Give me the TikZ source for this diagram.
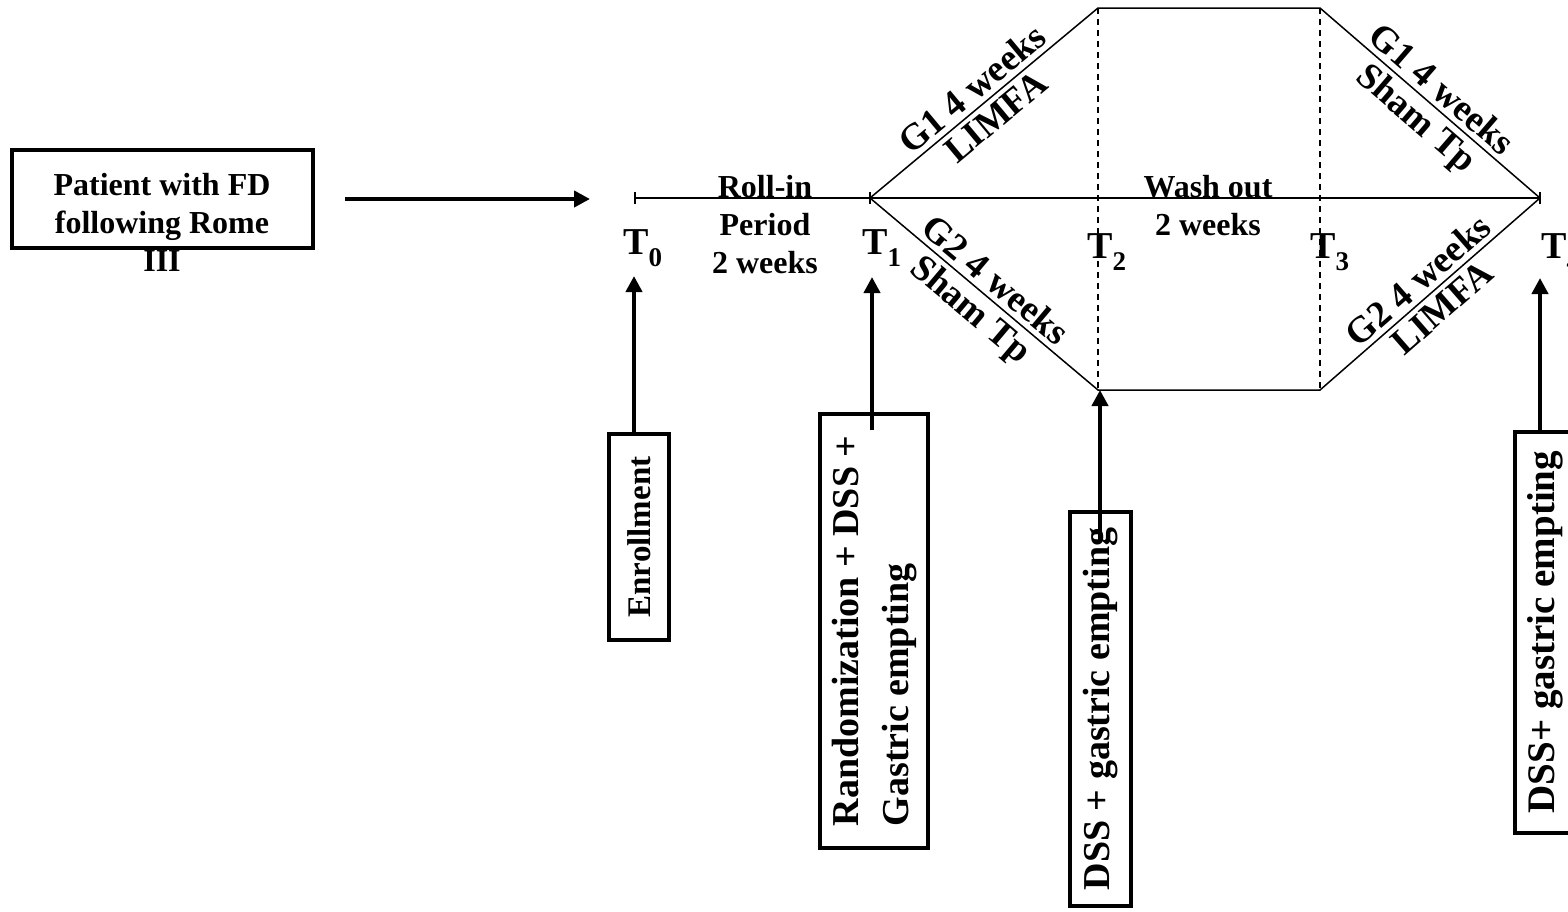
\documentclass[tikz,border=0pt]{standalone}
\usepackage{fontspec}
\setmainfont{Liberation Serif}
\usetikzlibrary{arrows.meta,positioning}

\newcommand{\tsub}[2]{#1\raisebox{-0.32em}{\fontsize{27}{27}\selectfont #2}}

\begin{document}
\begin{tikzpicture}[x=1pt,y=-1pt,
  box/.style={draw,line width=4pt,inner sep=0pt,align=center},
  vbox/.style={box,rotate=90},
  txt/.style={align=center,inner sep=0pt,font=\bfseries\fontsize{32}{38}\selectfont},
  tlab/.style={anchor=base west,inner sep=0pt,font=\bfseries\fontsize{38}{38}\selectfont},
  arr/.style={line width=4pt,-{Triangle[length=16pt,width=16pt]}},
  hexline/.style={line width=1.5pt},
  slant/.style={sloped,midway,inner sep=5pt,font=\bfseries\fontsize{37}{37}\selectfont}]
\path[use as bounding box,clip] (0,0) rectangle (1568,911);

% time axis
\coordinate (p0) at (635,198);
\coordinate (p1) at (870,198);
\coordinate (p2) at (1098,198);
\coordinate (p3) at (1320,198);
\coordinate (p4) at (1540,198);
\coordinate (up2) at (1098,8);
\coordinate (up3) at (1320,8);
\coordinate (lo2) at (1098,390);
\coordinate (lo3) at (1320,390);

\draw[line width=2pt] (p0) -- (p4);
\draw[line width=1.5pt] ([yshift=6pt]p0) -- ([yshift=-6pt]p0);
\draw[line width=1.5pt] ([yshift=6pt]p1) -- ([yshift=-6pt]p1);
\draw[line width=1.5pt] ([yshift=6pt]p4) -- ([yshift=-6pt]p4);

% the two arms
\draw[hexline] (p1) -- node[slant,above] (g1a) {G1 4 weeks} node[slant,below] (lim1) {LIMFA} (up2)
  -- (up3) -- node[slant,above] (g1b) {G1 4 weeks} node[slant,below] (sham1) {Sham Tp} (p4);
\draw[hexline] (p1) -- node[slant,above] (g2a) {G2 4 weeks} node[slant,below] (sham2) {Sham Tp} (lo2)
  -- (lo3) -- node[slant,above] (g2b) {G2 4 weeks} node[slant,below] (lim2) {LIMFA} (p4);
\draw[hexline,dash pattern=on 6pt off 5pt] (up2) -- (lo2);
\draw[hexline,dash pattern=on 6pt off 5pt] (up3) -- (lo3);

\node[txt] (roll) at (765,225) {Roll-in\\Period\\2 weeks};
\node[txt] (wash) at (1208,206) {Wash out\\2 weeks};

\node[tlab] (t0) at (623,254) {\tsub{T}{0}};
\node[tlab] (t1) at (862,254) {\tsub{T}{1}};
\node[tlab] (t2) at (1087,258) {\tsub{T}{2}};
\node[tlab] (t3) at (1310,258) {\tsub{T}{3}};
\node[tlab] (t4) at (1541,258) {\tsub{T}{4}};

% patient box
\node[box,minimum width=301pt,minimum height=98pt] (patient) at (162.5,199) {};
\node[txt] (patienttxt) at (162,222) {Patient with FD\\following Rome\\III};
\coordinate (t0in) at (590,199);
\draw[arr] ([xshift=30pt]patient.east) -- (t0in);

% visits
\node[vbox,minimum width=206pt,minimum height=60pt,font=\bfseries\fontsize{33}{33}\selectfont] (enroll) at (639,537) {Enrollment};
\node[vbox,minimum width=434pt,minimum height=108pt,align=left,
  font=\bfseries\fontsize{38}{50}\selectfont] (random) at (874,631) {Randomization + DSS +\\Gastric empting};
\node[vbox,minimum width=394pt,minimum height=61pt,font=\bfseries\fontsize{38}{38}\selectfont] (dss2) at (1100,709) {DSS + gastric empting};
\node[vbox,minimum width=401pt,minimum height=61pt,font=\bfseries\fontsize{39}{39}\selectfont] (dss4) at (1545,632) {DSS+ gastric empting};

\coordinate (a0) at (634,276);
\coordinate (a1) at (872,277);
\coordinate (a4) at (1540,278);
\draw[arr] (a0 |- enroll.east) -- (a0);
\draw[arr] ([yshift=-18pt]a1 |- random.east) -- (a1);
\draw[arr] ([yshift=-30pt]dss2.east) -- (dss2.east |- lo2);
\draw[arr] (a4 |- dss4.east) -- (a4);
\end{tikzpicture}
\end{document}
